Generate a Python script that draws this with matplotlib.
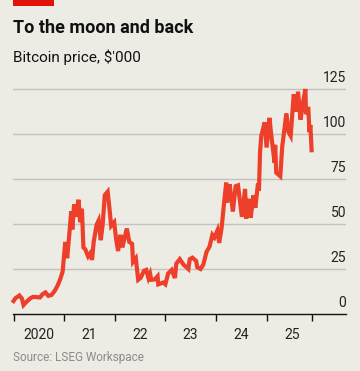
import pandas as pd
import matplotlib.pyplot as plt
from matplotlib.patches import Rectangle

# Bitcoin price, $'000
dates = [
    '2020-01-01', '2020-01-15', '2020-02-12', '2020-03-01', '2020-03-13', '2020-04-01',
    '2020-04-30', '2020-05-20', '2020-06-15', '2020-07-10', '2020-07-28', '2020-08-18',
    '2020-09-08', '2020-10-01', '2020-10-25', '2020-11-15', '2020-12-01', '2020-12-20',
    '2021-01-08', '2021-01-22', '2021-02-08', '2021-02-20', '2021-02-28', '2021-03-13',
    '2021-03-25', '2021-04-14', '2021-04-25', '2021-05-08', '2021-05-19', '2021-06-01',
    '2021-06-22', '2021-07-10', '2021-07-20', '2021-08-01', '2021-08-22', '2021-09-06',
    '2021-09-21', '2021-10-05', '2021-10-20', '2021-11-10', '2021-11-25', '2021-12-05',
    '2021-12-27', '2022-01-10', '2022-01-24', '2022-02-10', '2022-02-24', '2022-03-28',
    '2022-04-15', '2022-05-05', '2022-05-12', '2022-06-01', '2022-06-18', '2022-07-05',
    '2022-07-30', '2022-08-15', '2022-08-31', '2022-09-12', '2022-09-20', '2022-10-15',
    '2022-11-05', '2022-11-10', '2022-12-15', '2022-12-31', '2023-01-20', '2023-02-15',
    '2023-03-10', '2023-03-20', '2023-04-14', '2023-05-10', '2023-06-15', '2023-06-25',
    '2023-07-14', '2023-08-10', '2023-08-18', '2023-09-11', '2023-10-01', '2023-10-24',
    '2023-11-15', '2023-12-05', '2023-12-20', '2024-01-11', '2024-01-23', '2024-02-10',
    '2024-02-28', '2024-03-14', '2024-03-20', '2024-04-08', '2024-04-20', '2024-05-01',
    '2024-05-21', '2024-06-07', '2024-07-05', '2024-07-28', '2024-08-05', '2024-08-25',
    '2024-09-06', '2024-09-27', '2024-10-10', '2024-10-29', '2024-11-05', '2024-11-13',
    '2024-11-22', '2024-12-05', '2024-12-17', '2024-12-30', '2025-01-20', '2025-02-01',
    '2025-02-26', '2025-03-02', '2025-03-10', '2025-04-08', '2025-04-22', '2025-05-22',
    '2025-06-05', '2025-06-22', '2025-07-14', '2025-08-02', '2025-08-14', '2025-09-01',
    '2025-09-18', '2025-10-06', '2025-10-11', '2025-10-27', '2025-11-04', '2025-11-11',
    '2025-11-20',
]
prices = [
    7.2, 8.8, 10.3, 8.6, 5.0, 6.6,
    8.7, 9.5, 9.4, 9.2, 11.0, 12.0,
    10.1, 10.6, 13.0, 16.0, 19.0, 23.5,
    40.0, 31.0, 46.0, 57.0, 47.0, 61.0,
    54.0, 63.5, 51.0, 58.5, 37.0, 36.0,
    32.0, 34.0, 30.0, 40.0, 49.5, 52.0,
    41.0, 50.0, 66.0, 68.0, 57.0, 49.0,
    51.0, 41.5, 35.0, 44.0, 37.0, 47.5,
    40.0, 39.0, 29.0, 31.0, 19.0, 20.0,
    24.0, 24.5, 20.0, 22.3, 19.0, 19.2,
    21.0, 16.5, 17.5, 16.5, 22.5, 24.5,
    20.0, 28.0, 30.5, 27.5, 25.0, 30.5,
    31.3, 29.5, 26.0, 25.0, 27.5, 34.5,
    37.5, 44.0, 42.5, 46.5, 39.5, 48.0,
    62.0, 73.0, 62.0, 72.0, 64.0, 57.0,
    71.0, 71.5, 54.0, 69.5, 53.0, 64.0,
    53.5, 66.0, 59.0, 72.5, 68.5, 90.0,
    99.0, 103.0, 106.5, 92.5, 109.0, 100.0,
    84.0, 94.0, 78.5, 76.5, 93.0, 111.5,
    101.5, 99.0, 122.0, 112.5, 123.5, 108.0,
    117.0, 125.0, 111.0, 115.0, 101.0, 105.0,
    91.0,
]

y_ticks = [0, 25, 50, 75, 100, 125]
x_ticks = ['2020-01-01', '2021-01-01', '2022-01-01', '2023-01-01',
           '2024-01-01', '2025-01-01', '2025-11-20']
x_labels = ['2020', '21', '22', '23', '24', '25']
x_label_pos = ['2020-07-01', '2021-07-01', '2022-07-01', '2023-07-01',
               '2024-07-01', '2025-07-01']

bg = '#ECEBE4'
red = '#EE3F2A'
plt.rcParams['font.family'] = ['Roboto', 'DejaVu Sans']

fig = plt.figure(figsize=(3.6, 3.71), dpi=100, facecolor=bg)
ax = fig.add_axes([0.0361, 0.1536, 0.925, 0.6307], facecolor=bg)

s = pd.Series(prices, index=pd.to_datetime(dates))
ax.plot(s.index, s.values, color=red, lw=3, solid_joinstyle='miter', zorder=3,
        clip_on=False)

ax.set_xlim(pd.Timestamp('2019-12-28'), pd.Timestamp('2026-07-26'))
ax.set_ylim(0, 130)

for v in y_ticks:
    if v > 0:
        ax.axhline(v, color='#C3C2BC', lw=1, zorder=1)
    ax.annotate(str(v), xy=(1.0, v), xycoords=('axes fraction', 'data'),
                xytext=(0, 3), textcoords='offset points',
                ha='right', va='bottom', fontsize=10, color='#222222')

for sp in ['top', 'right', 'left']:
    ax.spines[sp].set_visible(False)
ax.spines['bottom'].set_color('#111111')
ax.spines['bottom'].set_linewidth(1)
ax.set_yticks([])
ax.set_xticks(pd.to_datetime(x_ticks))
ax.set_xticklabels([])
ax.tick_params(axis='x', length=5, width=1, color='#111111', direction='out')

for lab, pos in zip(x_labels, x_label_pos):
    ax.annotate(lab, xy=(pd.Timestamp(pos), 0), xycoords=('data', 'axes fraction'),
                xytext=(0, -10), textcoords='offset points',
                ha='center', va='top', fontsize=10, color='#222222')

fig.add_artist(Rectangle((13 / 360, 1 - 6 / 371), 41 / 360, 6 / 371,
                         transform=fig.transFigure, color='#E3120B', lw=0))
fig.text(13 / 360, 1 - 33 / 371, 'To the moon and back', fontsize=13,
         fontweight='bold', color='#111111', va='baseline')
fig.text(13 / 360, 1 - 62 / 371, "Bitcoin price, $'000", fontsize=11,
         color='#111111', va='baseline')
fig.text(13 / 360, 1 - 361 / 371, 'Source: LSEG Workspace', fontsize=8.5,
         color='#8C8C8C', va='baseline')

fig.savefig('out.png', dpi=100, facecolor=bg)
